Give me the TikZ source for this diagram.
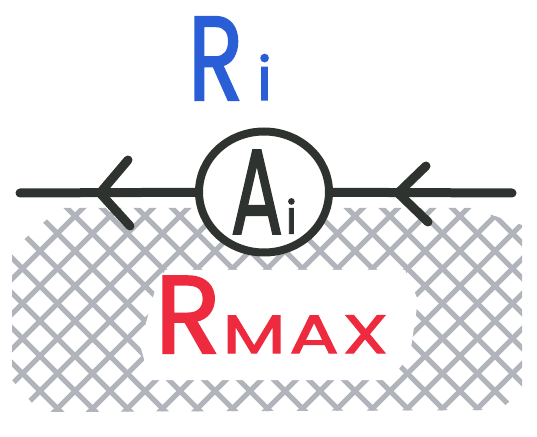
\documentclass[tikz,border=0pt]{standalone}
\usepackage{fontspec}
\setmainfont{Poppins}
\newfontfamily\markerfont{Poppins}[FakeBold=2]
\usetikzlibrary{shapes.geometric}
\definecolor{ink}{HTML}{2E332F}
\definecolor{riblue}{HTML}{2A5ED6}
\definecolor{maxred}{HTML}{EE2A3F}
\definecolor{hatchgray}{HTML}{B2B4BC}
\tikzset{
  wire/.style={ink,line width=9pt,line cap=round,line join=round},
  hatchline/.style={hatchgray,line width=5pt,line cap=round},
}
\begin{document}
\begin{tikzpicture}[x=1pt,y=1pt]
  \useasboundingbox (0,0) rectangle (537,436);
  % cross hatching under the line
  \begin{scope}
    \clip (12,186) -- (60,228) -- (470,228) -- (522,211) -- (522,46)
      -- (500,26) -- (40,24) -- (12,56) -- cycle;
    \foreach \k in {-460,-425,...,560}
      \draw[hatchline] (\k,0) -- ++(440,440);
    \foreach \k in {-20,15,...,1000}
      \draw[hatchline] (\k,0) -- ++(-440,440);
  \end{scope}
  \fill[white] (165,166) -- (405,166) -- (418,136) -- (410,81) -- (390,56)
    -- (150,56) -- (140,91) -- (155,146) -- cycle;
  % line with the circle
  \coordinate (lend) at (20,243);
  \coordinate (rend) at (512,243);
  \node[ellipse,draw=ink,line width=8pt,fill=white,minimum width=130pt,
    minimum height=121pt,inner sep=0pt,text=ink,font=\markerfont] (ai) at (264,244)
    {\scalebox{0.64}[1]{\fontsize{120}{120}\selectfont A}\hspace{3pt}\fontsize{46}{46}\selectfont i};
  \draw[wire] (lend) -- (ai);
  \draw[wire] (ai) -- (rend);
  \draw[wire] (128,276) -- (100,243) -- (130,210);
  \draw[wire] (426,270) -- (398,243) -- (428,214);
  % labels
  \node[riblue,anchor=base west,inner sep=0pt,font=\markerfont] (ri) at (188,336)
    {\scalebox{0.76}[1]{\fontsize{119}{119}\selectfont R}\hspace{14pt}\fontsize{60}{60}\selectfont i};
  \node[maxred,anchor=base west,inner sep=0pt,font=\markerfont] (rmax) at (155,83)
    {\scalebox{0.98}[1]{\fontsize{110}{110}\selectfont R}\hspace{2pt}\scalebox{1.35}[1]{\fontsize{54}{54}\selectfont M\kern3pt A\kern3pt X}};
\end{tikzpicture}
\end{document}
